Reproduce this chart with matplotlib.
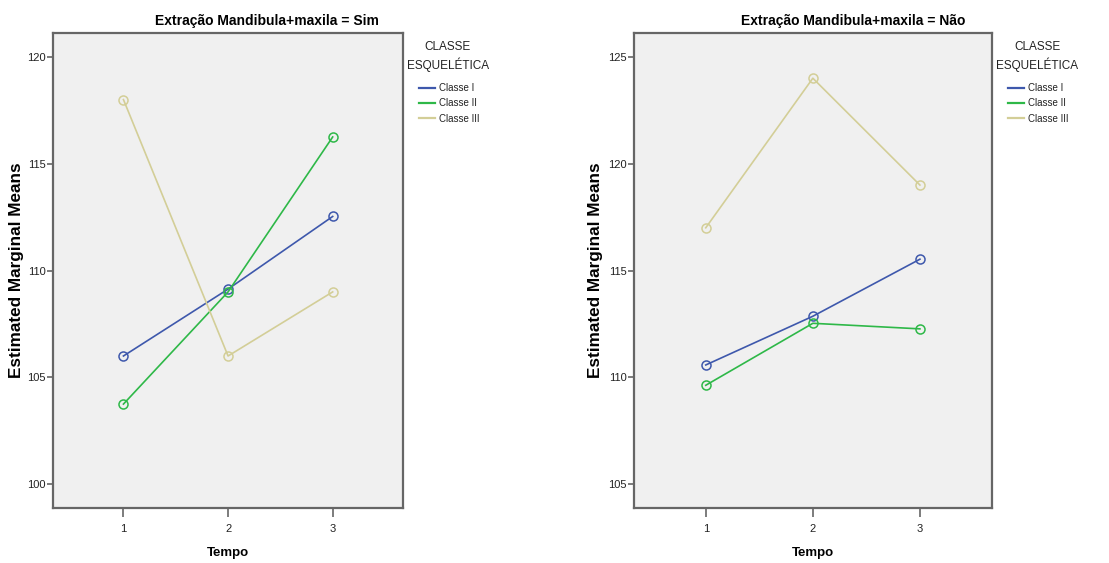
import matplotlib
matplotlib.use("Agg")
import matplotlib.pyplot as plt
from matplotlib.font_manager import FontProperties

# Estimated marginal means per time point, split by extraction group
tempo = [1, 2, 3]
classes = ["Classe I", "Classe II", "Classe III"]

sim_classe_i = [106.0, 109.13, 112.53]
sim_classe_ii = [103.75, 109.0, 116.25]
sim_classe_iii = [118.0, 106.0, 109.0]

nao_classe_i = [110.58, 112.86, 115.53]
nao_classe_ii = [109.63, 112.53, 112.27]
nao_classe_iii = [117.0, 124.0, 119.0]

sim_ticks = [100, 105, 110, 115, 120]
nao_ticks = [105, 110, 115, 120, 125]

colors = ["#3E58AC", "#2EB848", "#D3CE97"]
bg = "#F0F0F0"
spine_col = "#666666"

narrow = ["Liberation Sans Narrow", "Liberation Sans", "DejaVu Sans"]
regular = ["Liberation Sans", "DejaVu Sans"]

fig = plt.figure(figsize=(11.09, 5.63), dpi=100)
fig.patch.set_facecolor("white")

panels = [
    ("Extração Mandibula+maxila = Sim", [sim_classe_i, sim_classe_ii, sim_classe_iii],
     sim_ticks, (98.9, 121.1), [0.0481, 0.0982, 0.3151, 0.8426], 0.241, -0.084, 1.129, 1.047),
    ("Extração Mandibula+maxila = Não", [nao_classe_i, nao_classe_ii, nao_classe_iii],
     nao_ticks, (103.9, 126.1), [0.5717, 0.0982, 0.3225, 0.8426], 0.769, -0.087, 1.127, 1.046),
]

for title, series, yticks, ylim, rect, title_x, ylab_x, legt_x, leg_x in panels:
    ax = fig.add_axes(rect)
    ax.set_facecolor(bg)
    for vals, name, c in zip(series, classes, colors):
        ax.plot(tempo, vals, color=c, lw=1.2, marker="o", ms=6.5,
                mfc="none", mec=c, mew=1.1, label=name)
    ax.set_xlim(0.33, 3.67)
    ax.set_ylim(*ylim)
    ax.set_xticks(tempo)
    ax.set_yticks(yticks)
    for sp in ax.spines.values():
        sp.set_color(spine_col)
        sp.set_linewidth(1.6)
    ax.tick_params(axis="x", direction="out", length=6.5, width=1.2,
                   color=spine_col, labelsize=8, pad=5)
    ax.tick_params(axis="y", direction="out", length=4.5, width=1.2,
                   color=spine_col, labelsize=8, pad=1)
    for lab in ax.get_xticklabels() + ax.get_yticklabels():
        lab.set_fontfamily(narrow)
        lab.set_color("#222222")

    ax.set_xlabel("Tempo", fontsize=9.5, fontweight="bold", family=narrow)
    ax.xaxis.set_label_coords(0.5, -0.082)
    ax.set_ylabel("Estimated Marginal Means", fontsize=12.3, fontweight="bold",
                  family=regular)
    ax.yaxis.set_label_coords(ylab_x, 0.5)

    fig.text(title_x, 0.962, title, ha="center", va="center", fontsize=10,
             fontweight="bold", family=narrow)

    # legend heading
    ax.text(legt_x, 0.951, "CLASSE\nESQUELÉTICA", transform=ax.transAxes,
            ha="center", va="center", multialignment="center", linespacing=1.45,
            fontsize=8.5, family=narrow, color="#222222")

    leg = ax.legend(loc="upper left", bbox_to_anchor=(leg_x, 0.895), frameon=False,
                    handlelength=1.65, handletextpad=0.35,
                    labelspacing=0.55, borderaxespad=0.0, borderpad=0.0,
                    prop=FontProperties(family=narrow, size=7))
    for t in leg.get_texts():
        t.set_color("#222222")
    for h in leg.legend_handles:
        h.set_marker("")
        h.set_linewidth(1.6)

fig.savefig("out.png", dpi=100, facecolor="white")
